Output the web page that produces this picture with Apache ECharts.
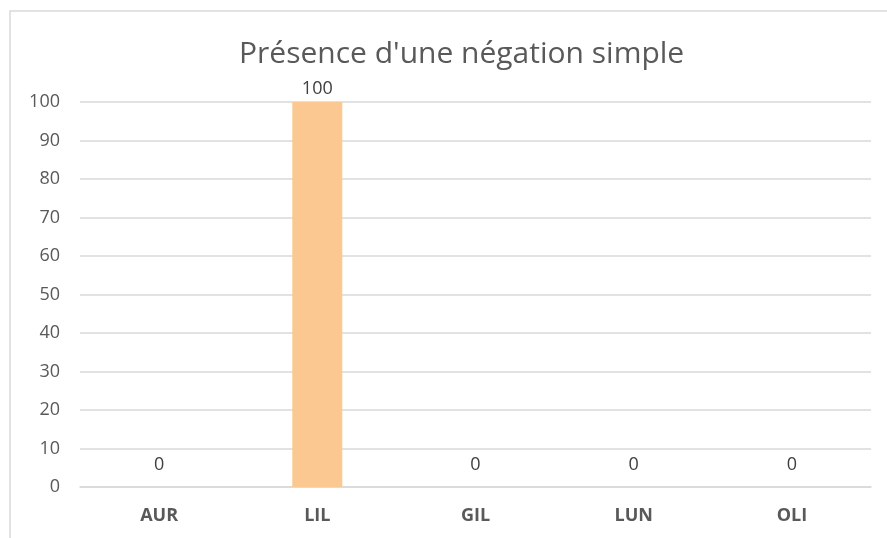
<!DOCTYPE html>
<html>
<head>
    <meta charset="utf-8">
    <script src="https://cdn.jsdelivr.net/npm/echarts@6/dist/echarts.min.js"></script>
    <style>
        body { margin: 0; background: #fff; }
    </style>
</head>
<body>
    <div id="chart" style="width: 887px; height: 538px;"></div>
<script>
// data
const titleText = "Présence d'une négation simple";
const categories = ['AUR', 'LIL', 'GIL', 'LUN', 'OLI'];
const values = [0, 100, 0, 0, 0];
const yTicks = { min: 0, max: 100, interval: 10 };

const textColor = '#595959';
const fontFam = '"Open Sans", "Liberation Sans", sans-serif';

var myChart = echarts.init(document.getElementById('chart'));

var option = {
    backgroundColor: '#fff',
    animation: false,
    // title sits a bit right of centre, like the original
    title: {
        text: titleText,
        left: 234,
        top: 34,
        textStyle: { color: textColor, fontSize: 30, fontWeight: 'normal', fontFamily: fontFam }
    },
    graphic: [{
        type: 'rect',
        shape: { x: 10, y: 11, width: 900, height: 560 },
        style: { fill: 'none', stroke: '#d9d9d9', lineWidth: 1.5 },
        silent: true
    }],
    grid: { left: 80, right: 16, top: 102, bottom: 51, containLabel: false },
    xAxis: {
        type: 'category',
        data: categories,
        axisLine: { lineStyle: { color: '#d9d9d9', width: 1.5 } },
        axisTick: { show: false },
        axisLabel: { color: textColor, fontSize: 18, fontWeight: 'bold', fontFamily: fontFam, margin: 20 }
    },
    yAxis: {
        type: 'value',
        min: yTicks.min,
        max: yTicks.max,
        interval: yTicks.interval,
        axisLine: { show: false },
        axisTick: { show: false },
        splitLine: { lineStyle: { color: '#d9d9d9', width: 1.5 } },
        axisLabel: { color: textColor, fontSize: 18, fontFamily: fontFam, margin: 20 }
    },
    series: [{
        type: 'bar',
        barWidth: 50,
        itemStyle: { color: '#fbc891' },
        label: {
            show: true,
            position: 'top',
            distance: 4,
            color: '#404040',
            fontSize: 18,
            fontFamily: fontFam
        },
        data: values.map(function (v) {
            return v === 0 ? { value: v, label: { distance: 13 } } : v;
        })
    }]
};

myChart.setOption(option);
</script>
</body>
</html>
